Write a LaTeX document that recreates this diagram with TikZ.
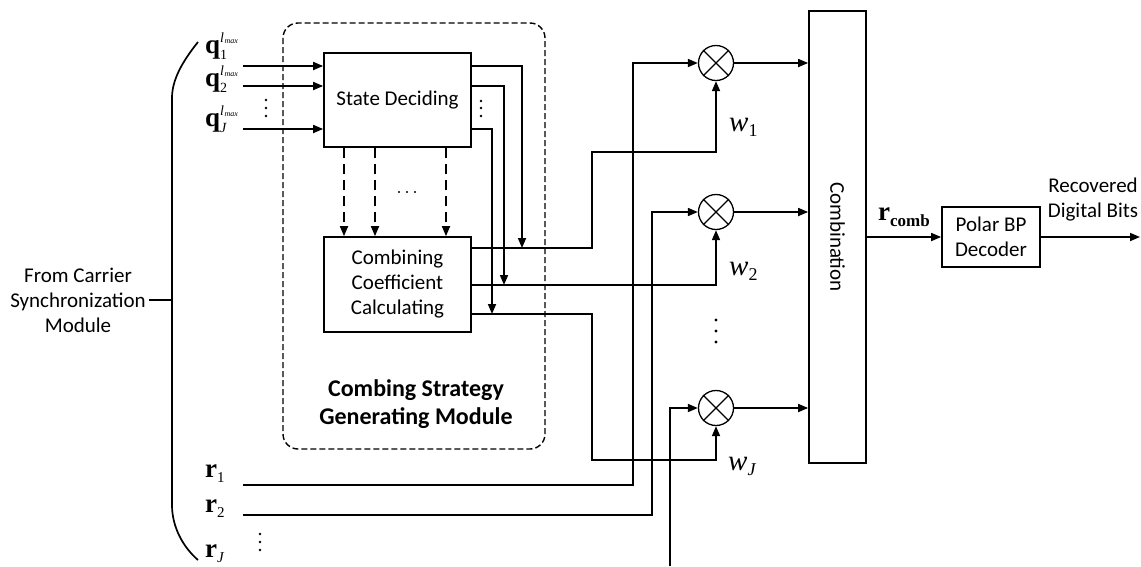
\documentclass[tikz,border=0pt]{standalone}
\usepackage{fontspec}
\setmainfont{Carlito}
\newfontfamily\tnr{Liberation Serif}
\usetikzlibrary{arrows.meta}
\newcommand\qlab[1]{\mbox{\tnr\fontsize{27}{27}\selectfont\bfseries q}\mbox{\tnr\fontsize{14}{14}\selectfont\rlap{\raisebox{-6pt}{#1}}\raisebox{11pt}{\itshape l\kern0.5pt\raisebox{-1pt}{\fontsize{8}{8}\selectfont max}}}}
\newcommand\rlab[1]{\mbox{\tnr\fontsize{27}{27}\selectfont\bfseries r}\mbox{\tnr\fontsize{15}{15}\selectfont\raisebox{-5pt}{#1}}}
\newcommand\wlab[1]{\mbox{\tnr\fontsize{29}{29}\selectfont\itshape w}\mbox{\tnr\fontsize{18}{18}\selectfont\raisebox{-5pt}{#1}}}
\tikzset{
  every node/.style={font=\fontsize{21}{25}\selectfont},
  ln/.style={line width=1.7pt},
  arr/.style={ln,-{Triangle[length=10pt,width=8pt]}},
  darr/.style={arr,dash pattern=on 10pt off 6pt},
  blk/.style={draw,line width=1.7pt,inner sep=0pt,align=center},
  mult/.style={draw,circle,line width=1.3pt,minimum size=35pt,inner sep=0pt},
  lab/.style={inner sep=0pt,anchor=base west},
  dot/.style={fill=black},
}
\begin{document}
\begin{tikzpicture}[x=1pt,y=-1pt]
\useasboundingbox (0,0) rectangle (1141,566);
% dashed module frame
\draw[line width=1.4pt,dash pattern=on 6pt off 3pt,rounded corners=15pt] (283,23) rectangle (545,449);
% blocks
\node[blk,minimum width=147pt,minimum height=94pt] (sd) at (397.5,100) {State Deciding};
\node[blk,minimum width=147pt,minimum height=95pt] (ccc) at (397.5,284.5) {Combining\\Coefficient\\Calculating};
\node[blk,minimum width=57pt,minimum height=452pt] (comb) at (837.5,237) {};
\node[rotate=-90] (combt) at (comb.center) {Combination};
\node[blk,minimum width=98pt,minimum height=60pt] (pol) at (991,237) {Polar BP\\Decoder};
\node[font=\bfseries\fontsize{24}{28}\selectfont,align=center] (mod) at (416,404) {Combing Strategy\\Generating Module};
\node[align=center] (src) at (78,300) {From Carrier\\Synchronization\\Module};
\node[align=center] (out) at (1093,200) {Recovered\\Digital Bits};
% multipliers
\foreach \n/\y in {m1/63,m2/212,mJ/408}{
  \node[mult] (\n) at (716,\y) {};
  \draw[line width=1.3pt] (\n.north east) -- (\n.south west) (\n.north west) -- (\n.south east);
}
% labels
\node[lab] (q1) at (205,53) {\qlab{1}};
\node[lab] (q2) at (205,86) {\qlab{2}};
\node[lab] (qJ) at (205,126) {\qlab{\itshape J}};
\node[lab] (r1) at (205,477) {\rlab{1}};
\node[lab] (r2) at (205,512) {\rlab{2}};
\node[lab] (rJ) at (205,557) {\rlab{\itshape J}};
\node[lab] (w1) at (729,131) {\wlab{1}};
\node[lab] (w2) at (729,275) {\wlab{2}};
\node[lab] (wJ) at (728,470) {\wlab{\itshape J}};
\node[lab] (rc) at (878,220) {\mbox{\tnr\fontsize{27}{27}\selectfont\bfseries r}\raisebox{-6pt}{\tnr\bfseries\fontsize{17}{17}\selectfont comb}};
% brace
\draw[ln] (198,42) .. controls (182,62) and (172,80) .. (172,98) -- (172,505) .. controls (172,528) and (184,548) .. (198,560);
\coordinate (bmid) at (172,300);
\draw[ln] (src.east |- bmid) -- (bmid);
% q inputs
\coordinate (qa1) at (243,66);
\coordinate (qa2) at (243,86);
\coordinate (qaJ) at (243,129);
\draw[arr] (qa1) -- (sd.west |- qa1);
\draw[arr] (qa2) -- (sd.west |- qa2);
\draw[arr] (qaJ) -- (sd.west |- qaJ);
% SD outputs down to CCC output lines
\coordinate (j1) at (522,248);
\coordinate (j2) at (504,285);
\coordinate (j3) at (492,314);
\draw[arr] (sd.east |- qa1) -| (j1);
\draw[arr] (sd.east |- qa2) -| (j2);
\draw[arr] (sd.east |- qaJ) -| (j3);
% dashed arrows SD -> CCC
\foreach \x in {344,375,446}{
  \draw[darr] (sd.south -| \x,0) -- (ccc.north -| \x,0);
}
% CCC outputs to multipliers
\coordinate (k1) at (592,152);
\coordinate (k3) at (592,460);
\draw[arr] (ccc.east |- j1) -| (k1) -| (m1.south);
\draw[arr] (ccc.east |- j2) -| (m2.south);
\draw[arr] (ccc.east |- j3) -| (k3) -| (mJ.south);
% r inputs
\coordinate (ra1) at (243,485);
\coordinate (ra2) at (243,515);
\coordinate (raJ) at (670,566);
\coordinate (v1) at (633,485);
\coordinate (v2) at (652,515);
\draw[arr] (ra1) -- (v1) |- (m1.west);
\draw[arr] (ra2) -- (v2) |- (m2.west);
\draw[arr] (raJ) |- (mJ.west);
% multipliers to combination
\draw[arr] (m1.east) -- (comb.west |- m1);
\draw[arr] (m2.east) -- (comb.west |- m2);
\draw[arr] (mJ.east) -- (comb.west |- mJ);
% combination -> decoder -> output
\coordinate (fin) at (1140,237);
\draw[arr] (comb.east |- pol) -- (pol.west);
\draw[arr] (pol.east) -- (fin);
% dots
\foreach \y in {100,108,116}{\fill[dot] (266,\y) circle (1.4pt);}
\foreach \y in {101,108,116}{\fill[dot] (481,\y) circle (1.4pt);}
\foreach \y in {320,331,342}{\fill[dot] (716,\y) circle (1.6pt);}
\foreach \y in {534,542,550}{\fill[dot] (260,\y) circle (1.4pt);}
\foreach \x in {399,407,415}{\fill[dot] (\x,192) circle (1.2pt);}
\end{tikzpicture}
\end{document}
